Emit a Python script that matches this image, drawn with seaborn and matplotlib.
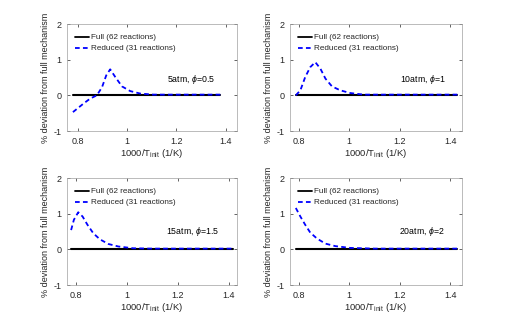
import numpy as np
import pandas as pd
import matplotlib
matplotlib.use("Agg")
import matplotlib.pyplot as plt
import seaborn as sns

# ---- data ----
p1_x = [0.781, 0.824, 0.851, 0.878, 0.899, 0.916, 0.932, 0.953, 0.980, 1.013, 1.054, 1.108, 1.200, 1.300, 1.378]
p1_y = [-0.47, -0.23, -0.09, 0.00, 0.23, 0.56, 0.73, 0.51, 0.25, 0.12, 0.05, 0.02, 0.02, 0.02, 0.02]

p2_x = [0.789, 0.807, 0.826, 0.846, 0.866, 0.886, 0.906, 0.932, 0.965, 1.004, 1.057, 1.150, 1.250, 1.350, 1.427]
p2_y = [0.00, 0.14, 0.51, 0.79, 0.93, 0.75, 0.47, 0.25, 0.14, 0.065, 0.02, 0.02, 0.02, 0.02, 0.02]

p3_x = [0.782, 0.793, 0.810, 0.827, 0.846, 0.869, 0.895, 0.928, 0.967, 1.025, 1.100, 1.200, 1.300, 1.416]
p3_y = [0.54, 0.83, 1.04, 0.92, 0.69, 0.45, 0.28, 0.15, 0.08, 0.03, 0.02, 0.02, 0.02, 0.02]

p4_x = [0.789, 0.807, 0.826, 0.846, 0.873, 0.906, 0.945, 1.004, 1.100, 1.200, 1.300, 1.427]
p4_y = [1.16, 0.92, 0.69, 0.47, 0.30, 0.16, 0.09, 0.04, 0.02, 0.02, 0.02, 0.02]

panel_x = [p1_x, p2_x, p3_x, p4_x]
panel_y = [p1_y, p2_y, p3_y, p4_y]
panel_labels = [r"5atm, $\phi$=0.5", r"10atm, $\phi$=1", r"15atm, $\phi$=1.5", r"20atm, $\phi$=2"]
label_pos = [(1.164, 0.44), (1.202, 0.44), (1.155, 0.51), (1.196, 0.51)]
xlims = [(0.757, 1.446), (0.766, 1.445), (0.766, 1.432), (0.766, 1.445)]

series_names = ["Full (62 reactions)", "Reduced (31 reactions)"]
xticks = [0.8, 1.0, 1.2, 1.4]
xticklabels = ["0.8", "1", "1.2", "1.4"]
yticks = [-1, 0, 1, 2]
yticklabels = ["-1", "0", "1", "2"]

# ---- style ----
sns.set_theme(style="ticks")
plt.rcParams["font.family"] = ["Liberation Sans", "DejaVu Sans"]
plt.rcParams["mathtext.fontset"] = "custom"
plt.rcParams["mathtext.rm"] = "Liberation Sans"
plt.rcParams["mathtext.it"] = "Liberation Sans:italic"
plt.rcParams["mathtext.bf"] = "Liberation Sans:bold"

fig = plt.figure(figsize=(5.10, 3.16), dpi=100)
positions = [
    [0.1314, 0.5854, 0.3333, 0.3386],
    [0.5686, 0.5854, 0.3370, 0.3386],
    [0.1314, 0.0981, 0.3333, 0.3386],
    [0.5686, 0.0981, 0.3370, 0.3386],
]

edge = "#262626"
for i in range(4):
    ax = fig.add_axes(positions[i])
    xs = panel_x[i]
    ys = panel_y[i]
    df = pd.DataFrame({
        "x": list(xs) + list(xs),
        "y": [0.0] * len(xs) + list(ys),
        "series": [series_names[0]] * len(xs) + [series_names[1]] * len(xs),
    })
    sns.lineplot(data=df, x="x", y="y", hue="series", style="series",
                 palette={series_names[0]: "black", series_names[1]: "#0000ff"},
                 dashes={series_names[0]: "", series_names[1]: (2.6, 1.8)},
                 linewidth=1.3, ax=ax, sort=False, estimator=None)
    ax.lines[0].set_linewidth(1.5)
    ax.set_xlim(*xlims[i])
    ax.set_ylim(-1, 2)
    ax.set_xticks(xticks)
    ax.set_xticklabels(xticklabels)
    ax.set_yticks(yticks)
    ax.set_yticklabels(yticklabels)
    ax.tick_params(direction="in", length=2.5, width=0.5, labelsize=6.5,
                   colors=edge, top=True, right=True)
    ax.tick_params(axis="x", pad=4.5)
    ax.tick_params(axis="y", pad=4.0)
    for sp in ax.spines.values():
        sp.set_visible(True)
        sp.set_linewidth(0.5)
        sp.set_color("#a0a0a0")
    ax.set_xlabel(r"1000/T$_{\mathrm{init}}$ (1/K)", fontsize=6.8, color=edge, labelpad=0.5)
    ax.set_ylabel("% deviation from full mechanism", fontsize=6.5, color=edge, labelpad=2.5)
    ax.text(label_pos[i][0], label_pos[i][1], panel_labels[i], fontsize=6.3,
            color="black", va="center", ha="left")
    leg = ax.legend(loc="upper left", bbox_to_anchor=(0.02, 0.955), frameon=False,
                    fontsize=5.9, handlelength=1.65, handletextpad=0.3,
                    labelspacing=0.4, borderaxespad=0.2)
    for t in leg.get_texts():
        t.set_color(edge)

fig.savefig("out.png", dpi=100)
